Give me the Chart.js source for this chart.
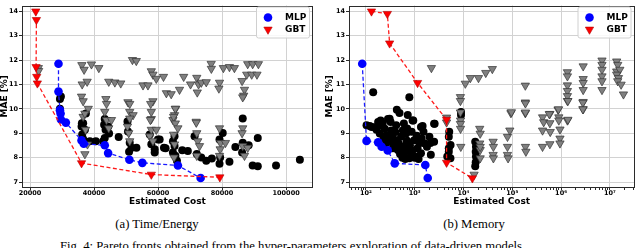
<!DOCTYPE html>
<html>
<head>
<meta charset="utf-8">
<script src="https://cdn.jsdelivr.net/npm/chart.js@4.4.1/dist/chart.umd.min.js"></script>
<style>
  html, body { margin: 0; padding: 0; background: #fff; }
  #wrap { position: relative; width: 640px; height: 248px; overflow: hidden; }
  canvas { position: absolute; top: 0; }
  .cap { position: absolute; font-family: "Liberation Serif", "Times New Roman", serif; font-size: 12.7px;
         line-height: 1; white-space: nowrap; color: #000; }
</style>
</head>
<body>
<div id="wrap">
  <canvas id="chartTime" width="320" height="206" style="left:0"></canvas>
  <canvas id="chartMem" width="320" height="206" style="left:320px"></canvas>
  <div class="cap" style="left:57px;top:218px;width:200px;text-align:center">(a) Time/Energy</div>
  <div class="cap" style="left:374px;top:218px;width:200px;text-align:center">(b) Memory</div>
  <div class="cap" style="left:60px;top:240px">Fig. 4: Pareto fronts obtained from the hyper-parameters exploration of data-driven models.</div>
</div>
<script>
// axis ranges and ticks
var yRange = [6.8, 14.24];
var yTicks = [7, 8, 9, 10, 11, 12, 13, 14];
var teRangeX = [17500, 108400];
var teTicksX = [20000, 40000, 60000, 80000, 100000];
var memRangeX = [45, 3.2e7];
var memTicksX = [1e2, 1e3, 1e4, 1e5, 1e6, 1e7];
var memTickLabelsX = ['10²', '10³', '10⁴', '10⁵', '10⁶', '10⁷'];

// (a) Time/Energy : [estimated cost, MAE %]
var teMlpFront = [[28900, 11.85], [28900, 10.71], [29350, 9.95], [29550, 9.81], [29650, 9.57], [31200, 9.44],
  [36100, 8.71], [36800, 8.57], [43350, 8.51], [44400, 8.19], [51050, 7.92], [55100, 7.79], [66200, 7.68], [73300, 7.17]];
var teGbtFront = [[21800, 14.0], [22000, 13.65], [21900, 11.72], [22100, 11.32], [22300, 11.05],
  [36100, 7.78], [57900, 7.31], [79300, 7.2]];
var teMlpAll = [[29650, 10.51], [29350, 10.01], [29350, 10.41], [37450, 9.81], [36200, 9.41], [36600, 9.41],
  [36100, 9.28], [37150, 9.15], [36300, 8.95], [36600, 8.77], [38700, 8.68], [40550, 8.68], [43350, 9.59],
  [43150, 9.35], [44400, 9.28], [43600, 9.15], [44700, 8.99], [43350, 8.81], [42850, 8.68], [47700, 8.85],
  [50450, 9.48], [50600, 9.08], [51150, 8.61], [51700, 8.41], [53250, 8.41], [50950, 8.24], [57400, 8.95],
  [57900, 8.55], [58950, 8.35], [59950, 8.75], [58950, 8.21], [61850, 8.41], [60500, 8.75], [62350, 8.39],
  [65150, 8.88], [64650, 8.68], [65150, 8.48], [65400, 8.08], [64650, 8.21], [65900, 7.88], [67550, 8.31],
  [69300, 8.28], [71400, 8.88], [72100, 8.15], [73500, 8.01], [75050, 7.88], [76800, 7.97], [79200, 8.75],
  [80200, 9.01], [79200, 7.75], [79400, 8.01], [82300, 7.84], [84150, 8.44], [86450, 9.61], [86450, 8.61],
  [86250, 8.21], [88300, 8.51], [89550, 7.68], [91150, 7.65], [91150, 8.81], [96850, 7.68], [104300, 7.92]];
var teGbtAll = [[22600, 11.68], [22700, 11.56], [36200, 11.8], [36900, 11.61], [39200, 11.83], [41500, 11.68],
  [36300, 11.01], [37850, 11.12], [44600, 11.12], [46500, 11.09], [48350, 11.05], [52000, 12.01], [53200, 11.97],
  [55300, 10.97], [56850, 10.97], [57900, 11.55], [58400, 11.41], [59450, 11.24], [61700, 11.32], [62600, 10.65],
  [64100, 10.61], [66700, 10.79], [68000, 11.32], [70150, 11.01], [72100, 11.28], [72650, 11.01], [73500, 11.08],
  [72250, 10.68], [75050, 11.1], [76600, 11.85], [76650, 11.65], [79200, 11.08], [79000, 10.84], [80400, 11.68],
  [82300, 11.72], [83850, 11.68], [86250, 11.15], [87000, 10.79], [86750, 10.55], [88000, 11.84], [89550, 11.84],
  [91350, 11.84], [87700, 11.41], [89250, 11.41], [90900, 11.41],
  [36100, 10.51], [36600, 10.32], [38200, 10.01], [43700, 10.41], [43900, 10.21], [43350, 9.88], [50600, 10.28],
  [51150, 9.88], [52200, 9.75], [58400, 10.32], [57900, 9.88], [57900, 9.59], [65500, 10.01], [65150, 9.75],
  [64650, 9.55], [71900, 9.48], [36600, 9.68], [37150, 9.81], [37350, 9.15], [37950, 8.55], [37150, 8.15],
  [43900, 9.55], [45450, 9.55], [44600, 9.21], [51150, 10.21], [51150, 9.61], [50450, 9.28], [50850, 9.01],
  [51150, 8.68], [57700, 10.21], [57600, 9.55], [57900, 9.15], [59450, 9.15], [57400, 8.88], [58400, 8.68],
  [65400, 10.01], [64850, 9.68], [65400, 9.41], [66200, 9.21], [64850, 8.95], [65150, 8.55], [65000, 8.01],
  [71950, 9.44], [72100, 9.01], [72400, 8.68], [72950, 8.48], [72100, 8.08], [79200, 9.21], [79500, 8.61],
  [81050, 8.61], [79400, 8.35], [79200, 8.08], [86450, 10.48], [86450, 9.21], [86250, 9.01], [86450, 8.48],
  [88000, 8.41], [87000, 8.08]];

// (b) Memory : [estimated cost, MAE %]
var memMlpFront = [[84, 11.85], [103, 8.69], [178, 8.63], [210, 8.45], [280, 8.3], [390, 7.77], [1650, 7.7], [1850, 7.17]];
var memGbtFront = [[130, 14.0], [275, 13.9], [306, 12.69], [1145, 11.07], [4500, 9.56], [4500, 7.8], [15200, 7.16]];
var memMlpAll = [[141, 10.68], [776, 10.48], [430, 9.97], [488, 9.83], [720, 9.75], [935, 9.53], [200, 9.53],
  [306, 9.6], [1450, 9.3], [2560, 9.39], [120, 9.3], [103, 9.33], [130, 9.26], [165, 9.15], [178, 9.46],
  [283, 9.59], [320, 9.46], [243, 9.19], [192, 8.99], [263, 8.92], [331, 9.12], [417, 9.33], [570, 9.12],
  [905, 9.53], [865, 9.06], [1343, 9.26], [1514, 9.06], [2500, 9.39], [306, 8.66], [243, 8.79], [417, 8.72],
  [526, 8.86], [357, 8.39], [526, 8.45], [667, 8.59], [615, 8.25], [841, 8.18], [776, 7.98], [615, 8.05],
  [1062, 8.05], [1145, 8.39], [1343, 8.18], [980, 8.72], [1560, 8.59], [1780, 8.45], [1380, 8.79], [2140, 8.12],
  [2500, 8.66], [2000, 8.86], [667, 8.99], [720, 8.39], [451, 8.32], [230, 8.85], [260, 8.6], [290, 8.75],
  [350, 8.9], [380, 8.55], [460, 8.6], [500, 8.15], [560, 8.0], [640, 7.95], [700, 8.7], [800, 8.5], [900, 8.3],
  [1000, 8.0], [1200, 7.95], [1250, 8.6], [180, 9.3], [220, 9.4], [150, 9.25], [400, 9.05], [600, 9.4],
  [700, 9.2], [1100, 8.9], [2100, 8.6],
  [5000, 8.86], [5100, 9.06], [5430, 8.52], [5000, 8.39], [5000, 8.25], [4650, 8.05], [5400, 7.98],
  [8900, 9.87], [8900, 9.75], [17400, 8.66], [18000, 8.45], [17800, 8.25], [18000, 8.05], [17800, 7.81], [17400, 7.65]];
var memGbtAll = [[2200, 11.68], [8650, 10.49], [10900, 11.04], [13800, 11.27], [20300, 11.27], [28600, 11.48],
  [39000, 11.64], [93800, 9.83], [185000, 10.96], [185000, 10.27], [185000, 9.83], [418000, 9.66], [590000, 9.8],
  [870000, 9.97], [900000, 9.66], [1.35e6, 11.51], [1.35e6, 11.34], [1.35e6, 10.97], [1.35e6, 10.74],
  [1.35e6, 10.53], [1.35e6, 10.33], [1.35e6, 9.53], [2.84e6, 11.75], [2.84e6, 11.23], [2.84e6, 11.07],
  [2.84e6, 10.78], [2.84e6, 10.29], [2.84e6, 9.99], [6.9e6, 11.99], [6.9e6, 11.81], [6.9e6, 11.61],
  [6.9e6, 11.34], [6.9e6, 11.14], [6.9e6, 10.78], [1.38e7, 11.95], [1.45e7, 11.81], [1.38e7, 11.54],
  [1.6e7, 11.61], [1.38e7, 11.41], [1.5e7, 11.27], [1.45e7, 11.14], [1.7e7, 11.0], [1.9e7, 10.6],
  [8650, 10.33], [8650, 9.86], [8700, 9.53], [8650, 9.39], [8700, 9.19], [8800, 8.45], [4500, 9.65], [4500, 9.45],
  [21500, 9.19], [22000, 8.99], [21500, 8.59], [22000, 8.32], [22000, 7.98], [16500, 7.31], [22000, 8.45],
  [40500, 8.66], [41000, 8.45], [40500, 8.12], [41000, 7.98], [79700, 8.86], [89000, 9.12], [96000, 9.87],
  [79700, 8.45], [79700, 8.12], [82000, 7.98], [186000, 10.23], [186000, 9.86], [186000, 8.45], [190000, 8.25],
  [440000, 9.46], [417000, 9.12], [417000, 8.45], [574000, 9.79], [590000, 9.42], [600000, 9.06], [590000, 8.56],
  [885000, 9.99], [900000, 9.53], [950000, 9.16], [950000, 8.79], [950000, 8.59], [1.38e6, 9.56], [1.38e6, 10.33],
  [2.8e6, 10.26], [2.8e6, 9.99]];

var GRID = '#d2d2d2';
var EDGE = '#2b2b2b';

Chart.defaults.font.family = 'DejaVu Sans';
Chart.defaults.font.weight = 'bold';
Chart.defaults.color = '#000';

function toPoints(arr) {
  return arr.map(function (p) { return {x: p[0], y: p[1]}; });
}

// frame round the plot area, like matplotlib spines
var framePlugin = {
  id: 'frame',
  afterDraw: function (chart) {
    var a = chart.chartArea, ctx = chart.ctx;
    ctx.save();
    ctx.strokeStyle = EDGE;
    ctx.lineWidth = 1;
    ctx.strokeRect(Math.round(a.left) + 0.5, Math.round(a.top) + 0.5,
      Math.round(a.right - a.left) - 1, Math.round(a.bottom - a.top) - 1);
    ctx.restore();
  }
};

// legend box in the upper right corner
var legendPlugin = {
  id: 'boxLegend',
  afterDraw: function (chart) {
    var a = chart.chartArea, ctx = chart.ctx;
    var w = 53, h = 31;
    var x0 = a.right - 4 - w, y0 = a.top + 1;
    ctx.save();
    ctx.fillStyle = 'rgba(255,255,255,0.85)';
    ctx.strokeStyle = '#d0d0d0';
    ctx.lineWidth = 1;
    ctx.beginPath();
    ctx.roundRect(x0 + 0.5, y0 + 0.5, w, h, 2);
    ctx.fill();
    ctx.stroke();

    // MLP marker
    ctx.fillStyle = '#0000ff';
    ctx.beginPath();
    ctx.arc(x0 + 12, y0 + 11, 4.3, 0, Math.PI * 2);
    ctx.fill();
    // GBT marker
    var r = 4.8, tx = x0 + 12, ty = y0 + 23;
    ctx.fillStyle = '#ff0000';
    ctx.strokeStyle = '#b00000';
    ctx.lineWidth = 0.6;
    ctx.beginPath();
    ctx.moveTo(tx, ty + r);
    ctx.lineTo(tx - r * 0.866, ty - r / 2);
    ctx.lineTo(tx + r * 0.866, ty - r / 2);
    ctx.closePath();
    ctx.fill();
    ctx.stroke();

    ctx.fillStyle = '#000';
    ctx.font = 'bold 9px "DejaVu Sans"';
    ctx.textBaseline = 'middle';
    ctx.fillText('MLP', x0 + 29, y0 + 11);
    ctx.fillText('GBT', x0 + 29, y0 + 23);
    ctx.restore();
  }
};

function makeDatasets(mlpFront, gbtFront, mlpAll, gbtAll) {
  return [
    {
      label: 'GBT', data: toPoints(gbtFront), showLine: true, order: 0,
      borderColor: '#ff1a1a', borderWidth: 1.3, borderDash: [4, 2.5],
      pointStyle: 'triangle', pointRotation: 180, pointRadius: 4.8,
      pointBackgroundColor: '#ff0000', pointBorderColor: '#b00000', pointBorderWidth: 0.6
    },
    {
      label: 'MLP', data: toPoints(mlpFront), showLine: true, order: 1,
      borderColor: '#1a1aff', borderWidth: 1.3, borderDash: [4, 2.5],
      pointStyle: 'circle', pointRadius: 4.3,
      pointBackgroundColor: '#0000ff', pointBorderColor: '#0000ff', pointBorderWidth: 0
    },
    {
      label: 'GBT all', data: toPoints(gbtAll), order: 2,
      pointStyle: 'triangle', pointRotation: 180, pointRadius: 4.8,
      pointBackgroundColor: '#808080', pointBorderColor: '#333333', pointBorderWidth: 0.7
    },
    {
      label: 'MLP all', data: toPoints(mlpAll), order: 3,
      pointStyle: 'circle', pointRadius: 4,
      pointBackgroundColor: '#000000', pointBorderColor: '#000000', pointBorderWidth: 0
    }
  ];
}

function makeChart(id, xOpts, datasets, padLeft, yWidth, padRight) {
  var tickFont = {size: 6.5, weight: 'bold', lineHeight: 1};
  return new Chart(document.getElementById(id), {
    type: 'scatter',
    data: {datasets: datasets},
    plugins: [framePlugin, legendPlugin],
    options: {
      responsive: false,
      animation: false,
      devicePixelRatio: 1,
      layout: {padding: {left: padLeft, right: padRight, top: 1, bottom: 0}},
      plugins: {legend: {display: false}, tooltip: {enabled: false}},
      scales: {
        x: {
          type: xOpts.type,
          min: xOpts.range[0],
          max: xOpts.range[1],
          bounds: 'data',
          afterFit: function (s) { s.height = 19; },
          afterBuildTicks: function (s) { s.ticks = xOpts.ticks(); },
          ticks: {autoSkip: false, maxRotation: 0, padding: 0, font: tickFont, callback: xOpts.label},
          grid: {color: xOpts.gridColor, tickColor: EDGE, tickLength: 3, lineWidth: 1},
          border: {display: false},
          title: {display: true, text: 'Estimated Cost', padding: 0, font: {size: 9, weight: 'bold', lineHeight: 1}}
        },
        y: {
          min: yRange[0],
          max: yRange[1],
          bounds: 'data',
          afterFit: function (s) { s.width = yWidth; },
          afterBuildTicks: function (s) {
            s.ticks = yTicks.map(function (v) { return {value: v}; });
          },
          ticks: {autoSkip: false, padding: 1, font: tickFont, callback: function (v) { return String(v); }},
          grid: {color: GRID, tickColor: EDGE, tickLength: 3, lineWidth: 1},
          border: {display: false},
          title: {display: true, text: 'MAE [%]', padding: 0, font: {size: 9, weight: 'bold', lineHeight: 1}}
        }
      }
    }
  });
}

// (a) linear cost axis
makeChart('chartTime', {
  type: 'linear',
  range: teRangeX,
  ticks: function () { return teTicksX.map(function (v) { return {value: v}; }); },
  label: function (v) { return String(v); },
  gridColor: GRID
}, makeDatasets(teMlpFront, teGbtFront, teMlpAll, teGbtAll), 0, 22, 7);

// (b) log cost axis with minor ticks
makeChart('chartMem', {
  type: 'logarithmic',
  range: memRangeX,
  ticks: function () {
    var out = [];
    [1e1].concat(memTicksX).forEach(function (major) {
      for (var m = 1; m < 10; m++) {
        var v = m * major;
        if (v >= memRangeX[0] && v <= memRangeX[1]) out.push({value: v, major: m === 1});
      }
    });
    return out;
  },
  label: function (v) {
    var i = memTicksX.indexOf(v);
    return i >= 0 ? memTickLabelsX[i] : '';
  },
  gridColor: function (c) {
    return c.tick && memTicksX.indexOf(c.tick.value) >= 0 ? GRID : 'rgba(0,0,0,0)';
  }
}, makeDatasets(memMlpFront, memGbtFront, memMlpAll, memGbtAll), 5, 24, 2);
</script>
</body>
</html>
